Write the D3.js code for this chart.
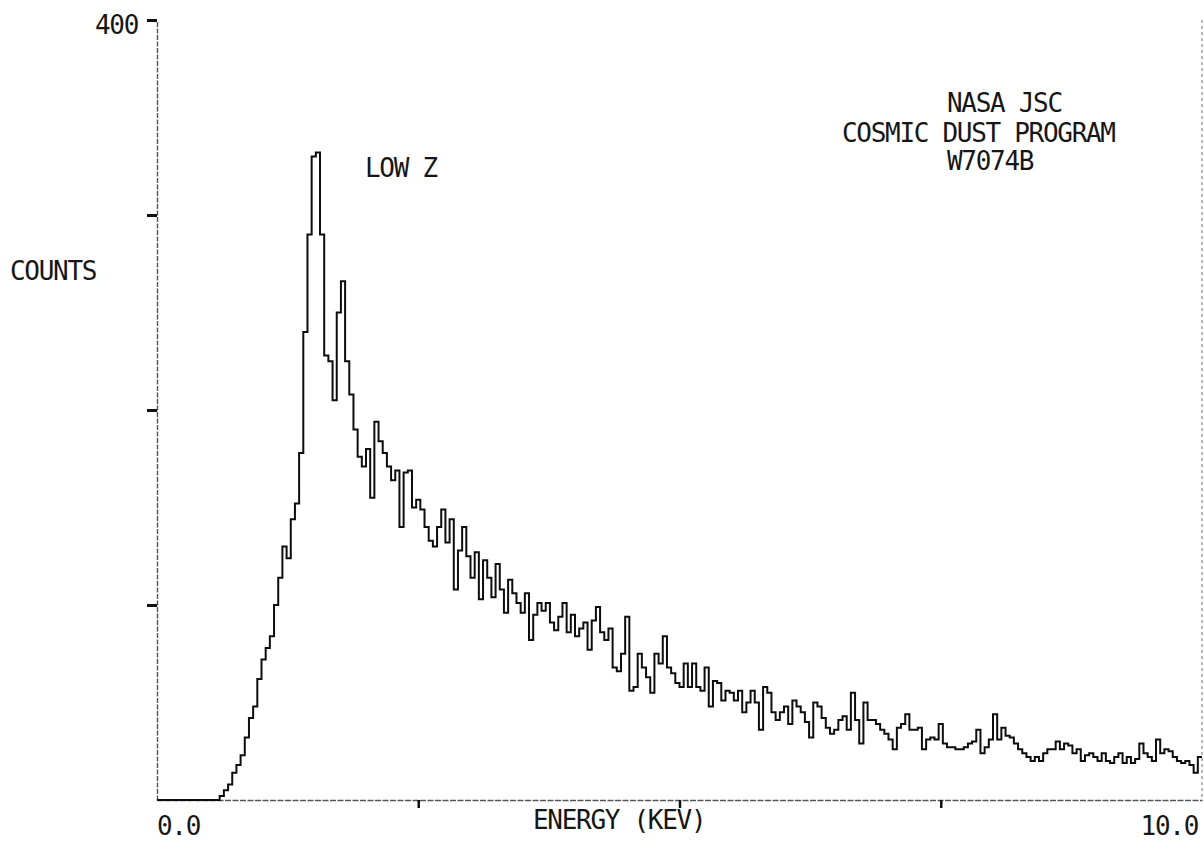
<!DOCTYPE html>
<html>
<head>
<meta charset="utf-8">
<script src="https://cdn.jsdelivr.net/npm/d3@7"></script>
<style>
  html, body { margin: 0; padding: 0; background: #fff; }
  svg text { font-family: 'DejaVu Sans Mono', monospace; font-size: 26px; letter-spacing: -1.3px; fill: #161616; }
</style>
</head>
<body>
<div id="chart"></div>
<script>
// spectrum: counts per 0.04 keV channel, 0.0 - 10.0 keV
const binWidth = 0.04
const counts = [
  0, 0, 0, 0, 0, 0, 0, 0, 0, 0, 0, 0, 0, 0, 0, 2, 5, 8, 14, 18,
  23, 32, 42, 48, 62, 72, 78, 84, 100, 114, 130, 124, 144, 152, 178, 240, 290, 330, 332, 290,
  228, 225, 205, 250, 266, 225, 208, 190, 176, 171, 180, 155, 194, 184, 178, 171, 164, 169, 140, 168,
  169, 150, 154, 149, 140, 133, 130, 140, 149, 132, 144, 108, 128, 140, 125, 114, 127, 103, 123, 114,
  104, 121, 108, 96, 113, 106, 101, 96, 106, 82, 95, 101, 97, 101, 91, 87, 94, 101, 86, 95,
  84, 88, 91, 77, 92, 99, 86, 82, 88, 68, 66, 75, 94, 56, 58, 75, 68, 63, 55, 75,
  70, 84, 68, 65, 60, 58, 70, 58, 70, 58, 56, 68, 48, 61, 60, 51, 56, 55, 51, 56,
  45, 50, 56, 50, 36, 58, 55, 45, 41, 45, 48, 39, 51, 48, 45, 40, 32, 50, 48, 42,
  37, 34, 36, 41, 43, 36, 55, 41, 29, 50, 41, 41, 39, 36, 34, 31, 26, 37, 39, 44,
  36, 36, 37, 26, 31, 32, 31, 39, 29, 27, 27, 26, 26, 27, 29, 30, 36, 24, 27, 31,
  44, 31, 37, 33, 32, 29, 26, 24, 22, 20, 22, 20, 24, 26, 26, 30, 26, 29, 28, 24,
  26, 20, 23, 24, 22, 20, 24, 20, 19, 22, 24, 19, 22, 19, 21, 29, 24, 22, 20, 31,
  24, 26, 25, 22, 20, 19, 20, 18, 14, 22
]

const yTicks = [0, 100, 200, 300, 400]
const xTicks = [0, 2.5, 5.0, 7.5, 10.0]
const xEndLabels = ['0.0', '10.0']
const yLabel = 'COUNTS'
const xLabel = 'ENERGY (KEV)'
const peakLabel = 'LOW Z'
const infoLines = ['NASA JSC', 'COSMIC DUST PROGRAM', 'W7074B']

const W = 1204
const H = 850
const plotL = 157
const plotR = 1202
const plotT = 20
const plotB = 800

const svg = d3.select('#chart')
  .append('svg')
  .attr('width', W)
  .attr('height', H)

const x = d3.scaleLinear().domain([0, 10]).range([plotL, plotR])
const y = d3.scaleLinear().domain([0, 400]).range([plotB, plotT])

// axes (ticks only, labels placed by hand like the plotter did)
const yAxis = svg.append('g')
  .attr('transform', 'translate(' + plotL + ',0)')
  .call(d3.axisLeft(y).tickValues(yTicks.slice(1)).tickSize(10).tickSizeOuter(0).tickFormat(''))
yAxis.select('.domain').attr('stroke', '#555').attr('stroke-width', 1.4).attr('stroke-dasharray', '5,1.5')
yAxis.selectAll('.tick line').attr('stroke', '#111').attr('stroke-width', 3)

const xAxis = svg.append('g')
  .attr('transform', 'translate(0,' + plotB + ')')
  .call(d3.axisBottom(x).tickValues(xTicks.slice(1, -1)).tickSize(8).tickFormat('').tickSizeOuter(0))
xAxis.select('.domain').attr('stroke', '#555').attr('stroke-width', 1.4).attr('stroke-dasharray', '6,1.5')
xAxis.selectAll('.tick line').attr('stroke', '#111').attr('stroke-width', 2.5)

// faint right border
svg.append('line')
  .attr('x1', plotR).attr('x2', plotR)
  .attr('y1', plotT).attr('y2', plotB)
  .attr('stroke', '#888')
  .attr('stroke-width', 1.2)
  .attr('stroke-dasharray', '3,3')

// histogram trace
const pts = counts.map((c, i) => [i * binWidth, c])
pts.push([counts.length * binWidth, counts[counts.length - 1]])

const line = d3.line()
  .x(d => x(d[0]))
  .y(d => y(d[1]))
  .curve(d3.curveStepAfter)

svg.append('path')
  .datum(pts)
  .attr('d', line)
  .attr('fill', 'none')
  .attr('stroke', '#0d0d0d')
  .attr('stroke-width', 2)
  .attr('stroke-linejoin', 'miter')

// labels
svg.append('text')
  .attr('x', plotL - 19)
  .attr('y', y(400) + 14)
  .attr('text-anchor', 'end')
  .text(yTicks[yTicks.length - 1])

svg.append('text')
  .attr('x', x(0))
  .attr('y', 835)
  .text(xEndLabels[0])

svg.append('text')
  .attr('x', x(10) - 4)
  .attr('y', 835)
  .attr('text-anchor', 'end')
  .text(xEndLabels[1])

svg.append('text')
  .attr('x', 533)
  .attr('y', 829)
  .text(xLabel)

svg.append('text')
  .attr('x', 10)
  .attr('y', 280)
  .text(yLabel)

svg.append('text')
  .attr('x', 365)
  .attr('y', 177)
  .text(peakLabel)

const infoX = [947, 842, 947]
const infoY = [112, 142, 170]
infoLines.forEach((t, i) => {
  svg.append('text')
    .attr('x', infoX[i])
    .attr('y', infoY[i])
    .text(t)
})
</script>
</body>
</html>
